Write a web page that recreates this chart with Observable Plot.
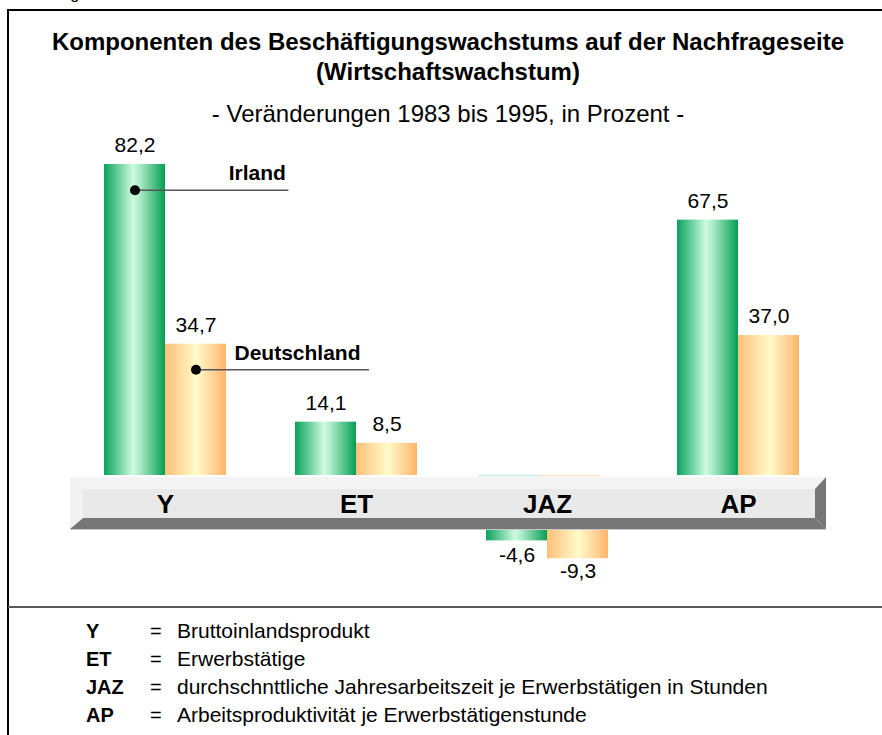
<!DOCTYPE html>
<html>
<head>
<meta charset="utf-8">
<script src="https://cdn.jsdelivr.net/npm/d3@7"></script>
<script src="https://cdn.jsdelivr.net/npm/@observablehq/plot@0.6"></script>
<style>
  html, body { margin: 0; padding: 0; background: #fff; }
  body { width: 882px; height: 735px; position: relative; overflow: hidden;
         font-family: "Liberation Sans", Arial, Helvetica, sans-serif; color: #000; }
  #chart { position: absolute; left: 0; top: 0; }
  .frame { position: absolute; left: 7px; top: 9px; width: 900px; height: 800px;
           border-left: 2px solid #000; border-top: 2px solid #000; }
  .sep { position: absolute; left: 8px; top: 606px; width: 880px; height: 0; border-top: 2px solid #5a5a5a; }
  .frag { position: absolute; left: 8px; top: -14.5px; font-size: 16px; line-height: 16px; }
  .title { position: absolute; left: 8px; width: 880px; text-align: center; font-size: 24px;
           line-height: 30px; font-weight: bold; top: 26.7px; }
  .subtitle { position: absolute; left: 8px; width: 880px; text-align: center; font-size: 24px;
              line-height: 30px; top: 98.7px; }
  .legend { position: absolute; left: 0; top: 617px; width: 882px; }
  .row { position: relative; height: 28px; font-size: 20px; line-height: 28px; }
  .key { position: absolute; left: 86px; font-weight: bold; }
  .eq { position: absolute; left: 150px; }
  .desc { position: absolute; left: 177px; white-space: nowrap; font-size: 21px; }
</style>
</head>
<body>
<div id="chart"></div>
<div class="frame"></div>
<div class="sep"></div>
<div class="frag" id="frag"></div>
<div class="title" id="title"></div>
<div class="subtitle" id="subtitle"></div>
<div class="legend" id="legend"></div>
<script>
// ---------- data ----------
const categories = ["Y", "ET", "JAZ", "AP"];
const seriesNames = ["Irland", "Deutschland"];
const irland = [82.2, 14.1, -4.6, 67.5];
const deutschland = [34.7, 8.5, -9.3, 37.0];
const legendKeys = ["Y", "ET", "JAZ", "AP"];
const legendTexts = [
  "Bruttoinlandsprodukt",
  "Erwerbstätige",
  "durchschnttliche Jahresarbeitszeit je Erwerbstätigen in Stunden",
  "Arbeitsproduktivität je Erwerbstätigenstunde"
];
const titleLines = ["Komponenten des Beschäftigungswachstums auf der Nachfrageseite", "(Wirtschaftswachstum)"];
const subtitleText = "- Veränderungen 1983 bis 1995, in Prozent -";
const topFragment = "Abbildung";

// ---------- table ----------
const rows = categories.flatMap((cat, i) => [
  {cat, series: seriesNames[0], value: irland[i]},
  {cat, series: seriesNames[1], value: deutschland[i]}
]);
const fmt = v => v.toFixed(1).replace(".", ",");
const ir = rows.filter(d => d.series === seriesNames[0]);
const de = rows.filter(d => d.series === seriesNames[1]);
const pos = d => d.value >= 0;
const neg = d => d.value < 0;
const annoIr = ir.filter(d => d.cat === categories[0]);
const annoDe = de.filter(d => d.cat === categories[0]);

// ---------- styles ----------
const FONT = '"Liberation Sans", Arial, Helvetica, sans-serif';
const HALF = 61;   // half band: one bar per country
const NEG = 48;    // negative bars hang below the 3D platform

// 3D platform (decoration) drawn from the y scale's zero and the plot frame
const platform = (index, scales, values, dims) => {
  const y0 = scales.y(0);
  const L = dims.marginLeft + 1, R = dims.width - dims.marginRight - 8;
  const T = y0 + 2, B = y0 + 54;
  const fl = L + 13, fr = R - 11, ft = T + 12, fb = B - 11;
  const g = d3.create("svg:g");
  const poly = (pts, fill) => g.append("polygon")
    .attr("points", pts.map(p => p.join(",")).join(" ")).attr("fill", fill);
  poly([[L, T], [R, T], [fr, ft], [fl, ft]], "#f4f4f4");
  poly([[L, T], [fl, ft], [fl, fb], [L, B]], "#f2f2f2");
  poly([[fl, ft], [fr, ft], [fr, fb], [fl, fb]], "#e9e9e9");
  poly([[L, B], [fl, fb], [fr, fb], [R, B]], "#767676");
  poly([[fr, ft], [R, T], [R, B], [fr, fb]], "#767676");
  g.append("line").attr("x1", L).attr("x2", R).attr("y1", B + 0.5).attr("y2", B + 0.5)
    .attr("stroke", "#c8c8c8").attr("stroke-width", 1);
  return g.node();
};

const svg = Plot.plot({
  width: 882,
  height: 600,
  marginLeft: 69,
  marginRight: 48,
  marginTop: 134.5,
  marginBottom: 125,
  style: {background: "transparent", fontFamily: FONT, overflow: "visible"},
  x: {domain: categories, paddingInner: 0.362, paddingOuter: 0.181, axis: null},
  y: {domain: [0, 90], axis: null},
  marks: [
    // negative bars (behind the platform)
    Plot.barY(ir.filter(neg), {x: "cat", y: "value", insetRight: HALF, dy: NEG, fill: "url(#gGreen)"}),
    Plot.barY(de.filter(neg), {x: "cat", y: "value", insetLeft: HALF, dy: NEG, fill: "url(#gOrange)"}),
    platform,
    // tops of the negative bars at zero level
    Plot.tickY(ir.filter(neg), {x: "cat", y: () => 0, insetRight: HALF, dx: -8, stroke: "#c4eadb", strokeWidth: 1.5}),
    Plot.tickY(de.filter(neg), {x: "cat", y: () => 0, insetLeft: HALF, dx: -8, stroke: "#fde2c8", strokeWidth: 1.5}),
    // positive bars
    Plot.barY(ir.filter(pos), {x: "cat", y: "value", insetRight: HALF, fill: "url(#gGreen)"}),
    Plot.barY(de.filter(pos), {x: "cat", y: "value", insetLeft: HALF, fill: "url(#gOrange)"}),
    // value labels
    Plot.text(ir.filter(pos), {x: "cat", y: "value", text: d => fmt(d.value), dx: -HALF / 2, dy: -19, fontSize: 21, fill: "#000"}),
    Plot.text(de.filter(pos), {x: "cat", y: "value", text: d => fmt(d.value), dx: HALF / 2, dy: -19, fontSize: 21, fill: "#000"}),
    Plot.text(ir.filter(neg), {x: "cat", y: "value", text: d => fmt(d.value), dx: -HALF / 2, dy: NEG + 14, fontSize: 21, fill: "#000"}),
    Plot.text(de.filter(neg), {x: "cat", y: "value", text: d => fmt(d.value), dx: HALF / 2, dy: NEG + 13, fontSize: 21, fill: "#000"}),
    // category labels on the platform
    Plot.text(categories, {x: d => d, y: () => 0, text: d => d, dy: 29, fontSize: 26, fontWeight: "bold", fill: "#000"}),
    // series annotations
    Plot.tickY(annoIr, {x: "cat", y: "value", dy: 25.7, insetLeft: 30.5, insetRight: -62.4, stroke: "#555", strokeWidth: 1.5}),
    Plot.dot(annoIr, {x: "cat", y: "value", dx: -HALF / 2, dy: 25.7, r: 5, fill: "#000", stroke: "none"}),
    Plot.text(annoIr, {x: "cat", y: "value", text: "series", dx: 120.4, dy: 15.7, textAnchor: "end", lineAnchor: "bottom", fontSize: 21, fontWeight: "bold", fill: "#000"}),
    Plot.tickY(annoDe, {x: "cat", y: "value", dy: 25.5, insetLeft: 91.5, insetRight: -143, stroke: "#555", strokeWidth: 1.5}),
    Plot.dot(annoDe, {x: "cat", y: "value", dx: HALF / 2, dy: 25.5, r: 5, fill: "#000", stroke: "none"}),
    Plot.text(annoDe, {x: "cat", y: "value", text: "series", dx: 195, dy: 15.3, textAnchor: "end", lineAnchor: "bottom", fontSize: 21, fontWeight: "bold", fill: "#000"})
  ]
});

// cylinder-like gradients
const defs = d3.select(svg).insert("defs", ":first-child");
function grad(id, stops) {
  const lg = defs.append("linearGradient").attr("id", id)
    .attr("x1", 0).attr("x2", 1).attr("y1", 0).attr("y2", 0);
  stops.forEach(([o, c]) => lg.append("stop").attr("offset", o).attr("stop-color", c));
}
grad("gGreen", [[0, "#0ca35a"], [0.2, "#5ac792"], [0.47, "#cdfae0"], [0.56, "#b6f0d0"], [0.82, "#4fbf87"], [1, "#039f53"]]);
grad("gOrange", [[0, "#ffbf78"], [0.25, "#ffdca0"], [0.52, "#fffbc9"], [0.78, "#ffd598"], [1, "#ffb568"]]);

document.getElementById("chart").appendChild(svg);

// ---------- texts ----------
document.getElementById("frag").textContent = topFragment;
document.getElementById("title").innerHTML = titleLines.map(t => `<div>${t}</div>`).join("");
document.getElementById("subtitle").textContent = subtitleText;
const legend = document.getElementById("legend");
legendKeys.forEach((k, i) => {
  const row = document.createElement("div");
  row.className = "row";
  row.innerHTML = `<span class="key">${k}</span><span class="eq">=</span><span class="desc">${legendTexts[i]}</span>`;
  legend.appendChild(row);
});
</script>
</body>
</html>
